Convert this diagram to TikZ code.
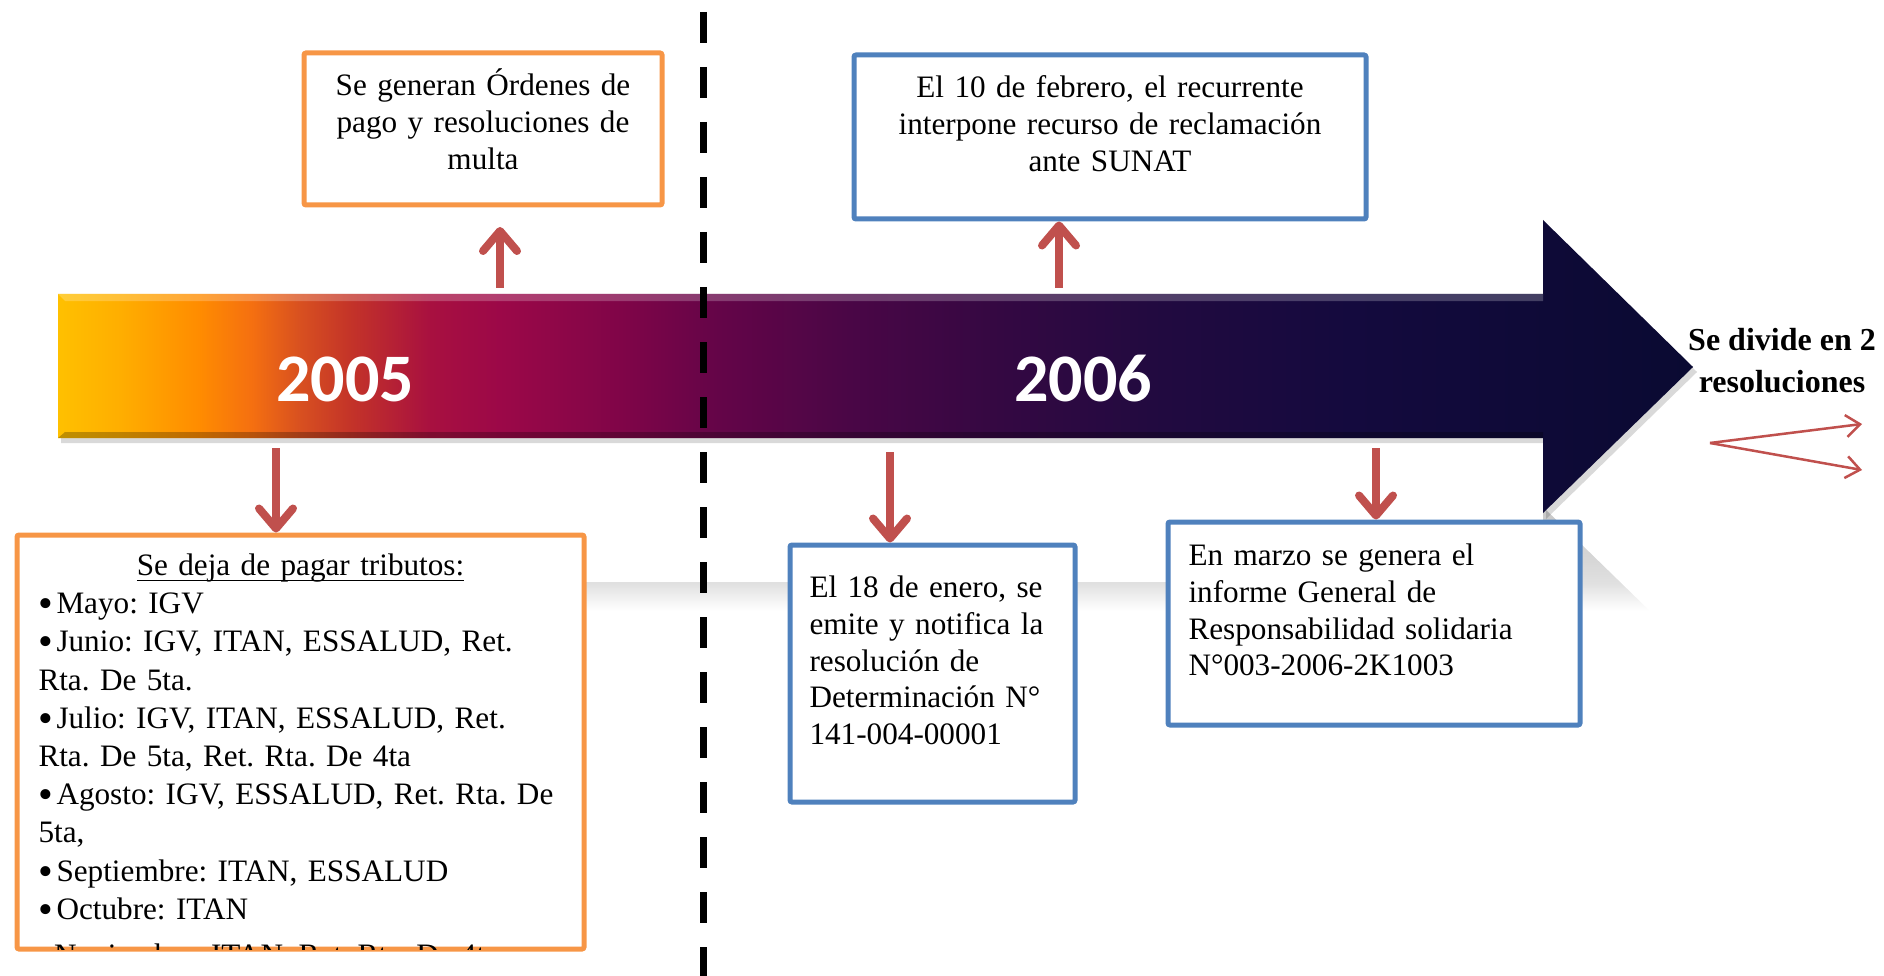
\documentclass[tikz,border=0pt]{standalone}
\usepackage{fontspec}
\setmainfont{Liberation Serif}
\newfontfamily\yearfont{Carlito}
\usetikzlibrary{arrows.meta,calc}
\frenchspacing
\definecolor{boxorange}{HTML}{F79646}
\definecolor{boxblue}{HTML}{4F81BD}
\definecolor{arrowred}{HTML}{C0504D}
\definecolor{tlA}{HTML}{FFC000}
\definecolor{tlB}{HTML}{FFAE00}
\definecolor{tlC}{HTML}{FF8C00}
\definecolor{tlD}{HTML}{F57010}
\definecolor{tlE}{HTML}{D85020}
\definecolor{tlF}{HTML}{C43428}
\definecolor{tlG}{HTML}{A81040}
\definecolor{tlH}{HTML}{9C0848}
\definecolor{tlI}{HTML}{800548}
\definecolor{tlJ}{HTML}{640548}
\definecolor{tlK}{HTML}{4A0646}
\definecolor{tlL}{HTML}{340842}
\definecolor{tlM}{HTML}{220A40}
\definecolor{tlN}{HTML}{140A3E}
\definecolor{tlO}{HTML}{0A0A32}
\pgfdeclarehorizontalshading{timeline}{100bp}{color(0bp)=(tlA); color(25bp)=(tlA); color(26.9bp)=(tlB);
  color(29.3bp)=(tlC); color(30.9bp)=(tlD); color(32.4bp)=(tlE); color(33.9bp)=(tlF); color(36.4bp)=(tlG);
  color(38.5bp)=(tlH); color(42.2bp)=(tlI); color(45.2bp)=(tlJ); color(49.2bp)=(tlK); color(53.8bp)=(tlL);
  color(58.4bp)=(tlM); color(64.5bp)=(tlN); color(75bp)=(tlO); color(100bp)=(tlO)}
\pgfdeclareverticalshading{reflection}{100bp}{color(0bp)=(white); color(25bp)=(white); color(41bp)=(white);
  color(45bp)=(black!5); color(50bp)=(black!12); color(58bp)=(black!16); color(75bp)=(black!22); color(100bp)=(black!22)}
\newcommand{\tlbullet}{\makebox[18pt][l]{\raisebox{-4pt}{\fontsize{42}{42}\selectfont\textbullet}}}
\newsavebox{\tlunderbox}
\newcommand{\tlunder}[1]{\sbox{\tlunderbox}{#1}\rlap{\rule[-5.8pt]{\wd\tlunderbox}{1.8pt}}\usebox{\tlunderbox}}

\begin{document}
\begin{tikzpicture}[
      x=1pt, y=-1pt,
      framebox/.style={line width=5pt, rounded corners=2pt, fill=white, inner ysep=0pt, anchor=north west, font=\fontsize{31.2}{36.8}\selectfont},
      orangebox/.style={framebox, draw=boxorange},
      bluebox/.style={framebox, draw=boxblue},
      year/.style={anchor=base, text=white, font=\yearfont\bfseries\fontsize{68}{70}\selectfont},
      redarr/.style={draw=arrowred, line width=8pt, -{Straight Barb[length=20pt, width=34pt, round]}},
      thinarr/.style={draw=arrowred, line width=2.5pt, -{Straight Barb[length=14pt, width=22pt]}}
  ]
    \useasboundingbox (0,0) rectangle (1884,976);

    % reflection and shadow of the timeline
    \shade[shading=reflection] (58,582) -- (1543,582) -- (1543,507) -- (1693,653) -- (1693,660) -- (58,660) -- cycle;
    \fill[black, opacity=.15] (61,299) -- (1546,299) -- (1546,225) -- (1697,372) -- (1546,519) -- (1546,443) -- (61,443) -- cycle;

    % timeline arrow
    \shade[shading=timeline] (58,294) -- (1543,294) -- (1543,220) -- (1693,367) -- (1543,513) -- (1543,438) -- (58,438) -- cycle;
    \fill[white, opacity=.22] (58,294) -- (1543,294) -- (1543,301) -- (65,301) -- cycle;
    \fill[black, opacity=.25] (65,432) -- (1543,432) -- (1543,438) -- (58,438) -- cycle;

    % year divider
    \coordinate (divTop) at (703,12);
    \coordinate (divBottom) at (703,976);
    \draw[line width=7pt, dash pattern=on 31pt off 24pt] (divTop) -- (divBottom);

    \node[year] (y2005) at (345,401) {2005};
    \node[year] (y2006) at (1083,401) {2006};

    % 2005
    \node[orangebox, align=center, inner xsep=20pt, text width=318pt, text height=42.5pt, text depth=109.5pt] (pagoBox) at (301.5,50.5)
      {Se generan Órdenes de\\pago y resoluciones de\\multa};
    \node[orangebox, align=left, inner xsep=21.5pt, text width=524pt, text height=40.5pt, text depth=373.5pt, font=\fontsize{31.2}{38.2}\selectfont] (tributosBox) at (14.5,532.5)
      {\makebox[\linewidth]{\tlunder{Se deja de pagar tributos:}}\\
       \tlbullet Mayo: IGV\\
       \tlbullet Junio: IGV, ITAN, ESSALUD, Ret.\\
       Rta. De 5ta.\\
       \tlbullet Julio: IGV, ITAN, ESSALUD, Ret.\\
       Rta. De 5ta, Ret. Rta. De 4ta\\
       \mbox{\tlbullet Agosto: IGV, ESSALUD, Ret. Rta. De}\\
       5ta,\\
       \tlbullet Septiembre: ITAN, ESSALUD\\
       \tlbullet Octubre: ITAN};
    \begin{scope}
      \clip ([shift={(2.5,-2.5)}]tributosBox.south west) rectangle ([shift={(-2.5,2.5)}]tributosBox.north east);
      \node[anchor=base west, inner sep=0pt, font=\fontsize{31.2}{38.2}\selectfont] (novLine) at ([shift={(21.5,14)}]tributosBox.south west)
        {\tlbullet Noviembre: ITAN, Ret. Rta. De 4ta};
    \end{scope}

    % 2006
    \node[bluebox, align=center, inner xsep=20pt, text width=472pt, text height=42.5pt, text depth=121.5pt] (febreroBox) at (851.5,52.5)
      {El 10 de febrero, el recurrente\\interpone recurso de reclamación\\ante SUNAT};
    \node[bluebox, align=left, inner xsep=19.5pt, text width=246pt, text height=52.5pt, text depth=204.5pt] (eneroBox) at (787.5,542.5)
      {El 18 de enero, se\\emite y notifica la\\resolución de\\Determinación N°\\141-004-00001};
    \node[bluebox, align=left, inner xsep=20.5pt, text width=371pt, text height=43.5pt, text depth=159.5pt] (marzoBox) at (1165.5,519.5)
      {En marzo se genera el\\informe General de\\Responsabilidad solidaria\\N°003-2006-2K1003};

    % connectors
    \coordinate (pagoFoot) at (500,288);
    \coordinate (tribTop) at (276,448);
    \coordinate (febFoot) at (1059,288);
    \coordinate (eneTop) at (890,452);
    \coordinate (marTop) at (1376,448);
    \draw[redarr] (pagoFoot) -- ($(pagoBox.south -| pagoFoot)+(0,19.5)$);
    \draw[redarr] (tribTop) -- (tribTop |- tributosBox.north);
    \draw[redarr] (febFoot) -- (febFoot |- febreroBox.south);
    \draw[redarr] (eneTop) -- (eneTop |- eneroBox.north);
    \draw[redarr] (marTop) -- (marTop |- marzoBox.north);

    % split
    \node[anchor=base, align=center, font=\bfseries\fontsize{32}{42}\selectfont] (splitNote) at (1782,392) {Se divide en 2\\resoluciones};
    \coordinate (splitFrom) at (1710,443);
    \coordinate (splitUp) at (1862,424);
    \coordinate (splitDown) at (1862,470);
    \draw[thinarr] (splitFrom) -- (splitUp);
    \draw[thinarr] (splitFrom) -- (splitDown);
\end{tikzpicture}
\end{document}
